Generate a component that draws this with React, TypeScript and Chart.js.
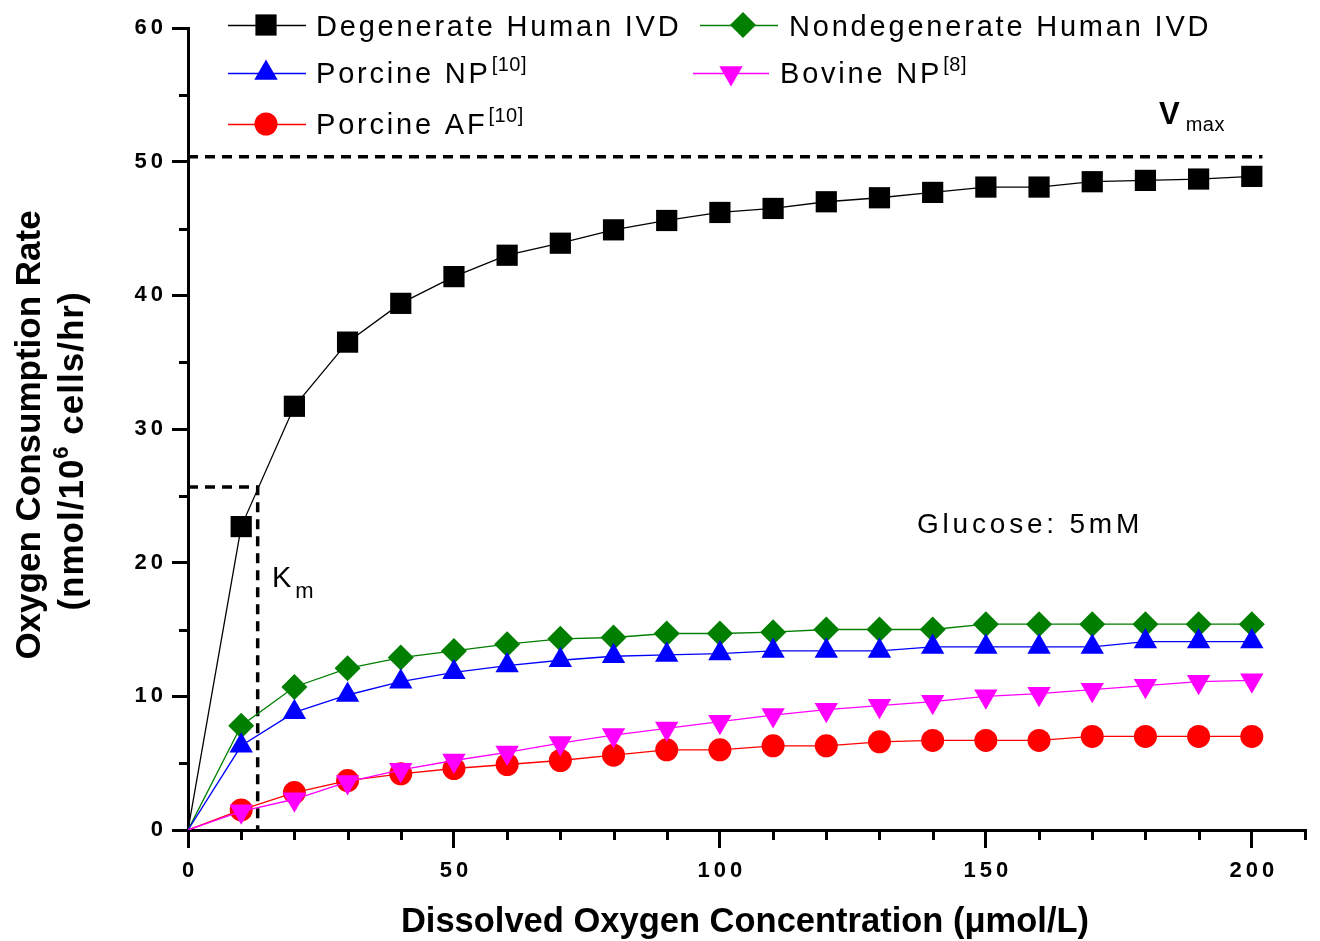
import React, { useEffect, useRef } from 'react';
import { Chart, registerables } from 'chart.js';

Chart.register(...registerables);

// ---------- data ----------
const X_VALUES = [0, 10, 20, 30, 40, 50, 60, 70, 80, 90, 100, 110, 120, 130, 140, 150, 160, 170, 180, 190, 200];
const DEGENERATE_HUMAN = [0, 22.7, 31.7, 36.5, 39.4, 41.4, 43.0, 43.9, 44.9, 45.6, 46.2, 46.5, 47.0, 47.3, 47.7, 48.1, 48.1, 48.5, 48.6, 48.7, 48.9];
const NONDEGENERATE_HUMAN = [0, 7.8, 10.7, 12.1, 12.9, 13.4, 13.9, 14.3, 14.4, 14.7, 14.7, 14.8, 15.0, 15.0, 15.0, 15.4, 15.4, 15.4, 15.4, 15.4, 15.4];
const PORCINE_NP = [0, 6.3, 8.8, 10.1, 11.1, 11.8, 12.3, 12.7, 13.0, 13.1, 13.2, 13.4, 13.4, 13.4, 13.7, 13.7, 13.7, 13.7, 14.1, 14.1, 14.1];
const BOVINE_NP = [0, 1.4, 2.3, 3.6, 4.5, 5.2, 5.8, 6.5, 7.1, 7.6, 8.1, 8.6, 9.0, 9.3, 9.6, 10.0, 10.2, 10.5, 10.8, 11.1, 11.2];
const PORCINE_AF = [0, 1.5, 2.8, 3.7, 4.2, 4.6, 4.9, 5.2, 5.6, 6.0, 6.0, 6.3, 6.3, 6.6, 6.7, 6.7, 6.7, 7.0, 7.0, 7.0, 7.0];

const SERIES_LABELS = ['Degenerate Human IVD', 'Nondegenerate Human IVD', 'Porcine NP', 'Bovine NP', 'Porcine AF'];
const SERIES_REFS = ['', '', '[10]', '[8]', '[10]'];

const VMAX = 50.37;
const VMAX_X = [0, 202];
const KM = 13.1;
const HALF_VMAX = 25.66;

const X_MIN = 0;
const X_MAX = 210;
const X_STEP = 10;
const X_MAJOR = 50;
const Y_MIN = 0;
const Y_MAX = 60;
const Y_STEP = 5;
const Y_MAJOR = 10;

const X_TITLE = 'Dissolved Oxygen Concentration (μmol/L)';
const Y_TITLE_1 = 'Oxygen Consumption Rate';
const Y_TITLE_2 = ['(nmol/10', '6', ' cells/hr)'];
const NOTE_TEXT = 'Glucose: 5mM';

// ---------- styles ----------
const COLORS = ['#000000', '#007F00', '#0000FF', '#FF00FF', '#FF0000'];
const STYLES = ['rect', 'rectRot', 'triangle', 'triangle', 'circle'];
const ROTATIONS = [0, 0, 0, 180, 0];
const RADII = [15, 13, 13.5, 13.5, 11.5];
const ORDERS = [5, 4, 3, 1, 2];
const FONT = '"Liberation Sans", Arial, sans-serif';

const LEGEND_POS = [
  { x1: 228, x2: 306, mx: 266, my: 25, tx: 316, base: 36 },
  { x1: 700, x2: 778, mx: 743, my: 25, tx: 789, base: 36 },
  { x1: 228, x2: 306, mx: 266, my: 73, tx: 316, base: 83 },
  { x1: 693, x2: 769, mx: 731, my: 73, tx: 780, base: 83 },
  { x1: 228, x2: 306, mx: 266, my: 124, tx: 316, base: 134 },
];

function drawMarker(ctx: CanvasRenderingContext2D, style: string, x: number, y: number, r: number, rotation: number, color: string) {
  ctx.save();
  ctx.fillStyle = color;
  ctx.beginPath();
  if (style === 'rect') {
    const s = Math.SQRT1_2 * r;
    ctx.rect(x - s, y - s, 2 * s, 2 * s);
  } else if (style === 'rectRot') {
    ctx.moveTo(x, y - r);
    ctx.lineTo(x + r, y);
    ctx.lineTo(x, y + r);
    ctx.lineTo(x - r, y);
    ctx.closePath();
  } else if (style === 'triangle') {
    let a = (rotation * Math.PI) / 180;
    ctx.moveTo(x + Math.sin(a) * r, y - Math.cos(a) * r);
    a += (2 * Math.PI) / 3;
    ctx.lineTo(x + Math.sin(a) * r, y - Math.cos(a) * r);
    a += (2 * Math.PI) / 3;
    ctx.lineTo(x + Math.sin(a) * r, y - Math.cos(a) * r);
    ctx.closePath();
  } else {
    ctx.arc(x, y, r, 0, Math.PI * 2);
  }
  ctx.fill();
  ctx.restore();
}

function text(ctx: CanvasRenderingContext2D, s: string, x: number, y: number, font: string, spacing = 0, align: CanvasTextAlign = 'left') {
  ctx.font = font;
  (ctx as any).letterSpacing = spacing + 'px';
  ctx.textAlign = align;
  ctx.textBaseline = 'alphabetic';
  ctx.fillText(s, x, y);
  return ctx.measureText(s).width;
}

const decorPlugin = {
  id: 'decor',
  beforeDraw(chart: any) {
    (chart.ctx as any).letterSpacing = '4px';
  },
  afterDraw(chart: any) {
    const ctx: CanvasRenderingContext2D = chart.ctx;
    const xs = chart.scales.x;
    const ys = chart.scales.y;
    const area = chart.chartArea;
    ctx.save();
    ctx.fillStyle = '#000';
    ctx.strokeStyle = '#000';
    ctx.lineWidth = 3;
    // minor ticks
    xs.ticks.forEach((t: any) => {
      if (t.value % X_MAJOR !== 0) {
        const px = Math.round(xs.getPixelForValue(t.value)) + 0.5;
        ctx.beginPath();
        ctx.moveTo(px, area.bottom);
        ctx.lineTo(px, area.bottom + 10);
        ctx.stroke();
      }
    });
    ys.ticks.forEach((t: any) => {
      if (t.value % Y_MAJOR !== 0) {
        const py = Math.round(ys.getPixelForValue(t.value)) + 0.5;
        ctx.beginPath();
        ctx.moveTo(area.left - 9, py);
        ctx.lineTo(area.left, py);
        ctx.stroke();
      }
    });

    // legend
    chart.data.datasets.forEach((ds: any, i: number) => {
      if (i >= SERIES_LABELS.length) return;
      const p = LEGEND_POS[i];
      ctx.strokeStyle = COLORS[i];
      ctx.lineWidth = 1.3;
      ctx.beginPath();
      ctx.moveTo(p.x1, p.my + 0.5);
      ctx.lineTo(p.x2, p.my + 0.5);
      ctx.stroke();
      drawMarker(ctx, STYLES[i], p.mx, p.my, RADII[i], ROTATIONS[i], COLORS[i]);
      ctx.fillStyle = '#000';
      const w = text(ctx, ds.label, p.tx, p.base, `29px ${FONT}`, 2.8);
      if (SERIES_REFS[i]) {
        text(ctx, SERIES_REFS[i], p.tx + w + 1, p.base - 12, `20px ${FONT}`, 0.5);
      }
    });

    ctx.fillStyle = '#000';
    // Vmax label
    const vw = text(ctx, 'V', 1159, 124, `bold 31px ${FONT}`, 0);
    text(ctx, 'max', 1159 + vw + 6, 131, `20px ${FONT}`, 0.5);
    // Km label
    const kw = text(ctx, 'K', 272, 587, `29px ${FONT}`, 0);
    text(ctx, 'm', 272 + kw + 4, 598, `22px ${FONT}`, 0);
    // note
    text(ctx, NOTE_TEXT, 917, 533, `28px ${FONT}`, 3.8);

    // x title
    text(ctx, X_TITLE, 745, 932, `bold 34.5px ${FONT}`, 0, 'center');

    // y title
    ctx.save();
    ctx.translate(40, 435);
    ctx.rotate(-Math.PI / 2);
    text(ctx, Y_TITLE_1, 0, 0, `bold 35px ${FONT}`, 0, 'center');
    ctx.restore();

    ctx.save();
    ctx.translate(83, 451);
    ctx.rotate(-Math.PI / 2);
    const big = `bold 35px ${FONT}`;
    const small = `bold 22px ${FONT}`;
    ctx.font = big;
    (ctx as any).letterSpacing = '1px';
    const w0 = ctx.measureText(Y_TITLE_2[0]).width;
    const w2 = ctx.measureText(Y_TITLE_2[2]).width;
    ctx.font = small;
    const w1 = ctx.measureText(Y_TITLE_2[1]).width;
    const total = w0 + w1 + w2;
    let cx = -total / 2;
    text(ctx, Y_TITLE_2[0], cx, 0, big, 1);
    cx += w0;
    text(ctx, Y_TITLE_2[1], cx, -15, small, 1);
    cx += w1;
    text(ctx, Y_TITLE_2[2], cx, 0, big, 1);
    ctx.restore();

    ctx.restore();
    (ctx as any).letterSpacing = '0px';
  },
};

function pts(ys: number[]) {
  return X_VALUES.map((x, i) => ({ x, y: ys[i] }));
}

export default function App() {
  const ref = useRef<HTMLCanvasElement | null>(null);
  useEffect(() => {
    if (!ref.current) return;
    const seriesData = [DEGENERATE_HUMAN, NONDEGENERATE_HUMAN, PORCINE_NP, BOVINE_NP, PORCINE_AF];
    const datasets: any[] = seriesData.map((d, i) => ({
      label: SERIES_LABELS[i],
      data: pts(d),
      borderColor: COLORS[i],
      backgroundColor: COLORS[i],
      borderWidth: 1.3,
      pointStyle: STYLES[i],
      rotation: ROTATIONS[i],
      pointRotation: ROTATIONS[i],
      pointRadius: (c: any) => (c.dataIndex === 0 ? 1 : RADII[i]),
      pointBorderWidth: 0,
      pointBackgroundColor: COLORS[i],
      tension: 0,
      order: ORDERS[i],
    }));
    datasets.push({
      label: 'Vmax',
      data: VMAX_X.map((x) => ({ x, y: VMAX })),
      borderColor: '#000',
      borderWidth: 3.5,
      borderDash: [10, 7],
      pointRadius: 0,
      order: 6,
    });
    datasets.push({
      label: 'Km',
      data: [
        { x: X_MIN, y: HALF_VMAX },
        { x: KM, y: HALF_VMAX },
        { x: KM, y: Y_MIN },
      ],
      borderColor: '#000',
      borderWidth: 3.5,
      borderDash: [10, 7],
      pointRadius: 0,
      order: 6,
    });

    const chart = new Chart(ref.current, {
      type: 'line',
      data: { datasets },
      options: {
        animation: false,
        responsive: false,
        devicePixelRatio: 1,
        layout: { padding: { top: 28, right: 15, left: 0, bottom: 0 } },
        plugins: { legend: { display: false }, tooltip: { enabled: false } },
        scales: {
          x: {
            type: 'linear',
            min: X_MIN,
            max: X_MAX,
            afterFit: (s: any) => {
              s.height = 111;
            },
            border: { display: true, color: '#000', width: 3 },
            grid: {
              drawOnChartArea: false,
              drawTicks: true,
              tickLength: 18,
              lineWidth: 3,
              color: (c: any) => (c.tick && c.tick.value % X_MAJOR === 0 ? '#000' : 'rgba(0,0,0,0)'),
            },
            ticks: {
              stepSize: X_STEP,
              autoSkip: false,
              maxRotation: 0,
              padding: 10,
              labelOffset: 2,
              color: '#000',
              font: { family: FONT, size: 22, weight: 'bold' },
              callback: (v: any) => (Number(v) % X_MAJOR === 0 ? String(v) : ''),
            },
          },
          y: {
            type: 'linear',
            min: Y_MIN,
            max: Y_MAX,
            afterFit: (s: any) => {
              s.width = 188;
            },
            border: { display: true, color: '#000', width: 3 },
            grid: {
              drawOnChartArea: false,
              drawTicks: true,
              tickLength: 16,
              lineWidth: 3,
              color: (c: any) => (c.tick && c.tick.value % Y_MAJOR === 0 ? '#000' : 'rgba(0,0,0,0)'),
            },
            ticks: {
              stepSize: Y_STEP,
              autoSkip: false,
              padding: 5,
              color: '#000',
              font: { family: FONT, size: 22, weight: 'bold' },
              callback: (v: any) => (Number(v) % Y_MAJOR === 0 ? String(v) : ''),
            },
          },
        },
      },
      plugins: [decorPlugin],
    } as any);
    return () => chart.destroy();
  }, []);

  return (
    <div style={{ position: 'absolute', left: 0, top: 0, width: 1320, height: 941, background: '#fff' }}>
      <canvas ref={ref} width={1320} height={941} style={{ display: 'block' }} />
    </div>
  );
}
